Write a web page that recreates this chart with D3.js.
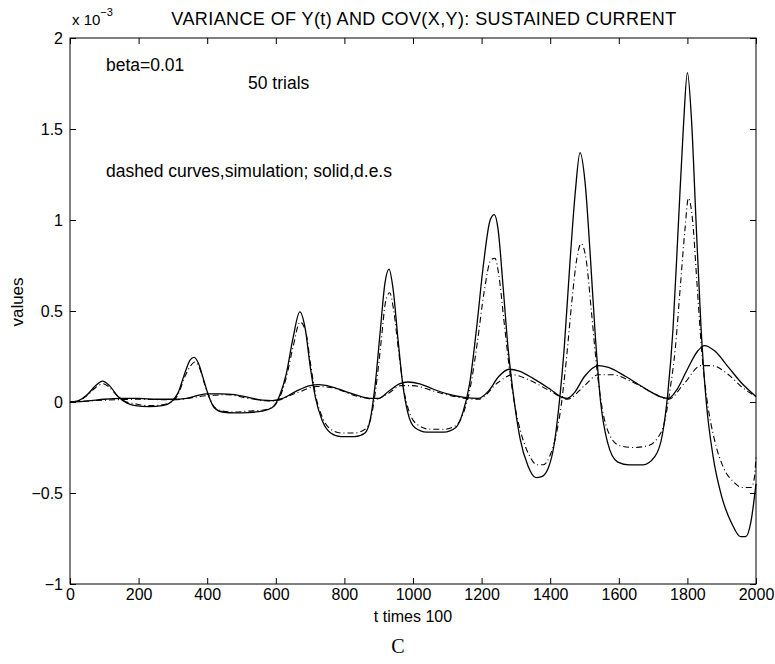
<!DOCTYPE html>
<html>
<head>
<meta charset="utf-8">
<script src="https://cdn.jsdelivr.net/npm/d3@7"></script>
<style>
  body { margin: 0; background: #fff; }
  text { font-family: "Liberation Sans", Arial, sans-serif; fill: #000; }
</style>
</head>
<body>
<div id="chart"></div>
<script>
// values, y in units of 1e-3, t in "t times 100"
const varDes = [[0,0],[20,0.005],[50,0.04],[75,0.09],[95,0.115],[115,0.09],[140,0.03],[165,-0.005],[190,-0.02],[230,-0.025],[270,-0.02],[295,0],[315,0.05],[335,0.16],[350,0.23],[362,0.245],[375,0.21],[390,0.12],[405,0.03],[420,-0.03],[445,-0.055],[480,-0.06],[520,-0.058],[560,-0.05],[590,-0.03],[610,0.03],[630,0.15],[650,0.35],[670,0.495],[686,0.4],[700,0.2],[715,0.03],[735,-0.1],[760,-0.17],[790,-0.19],[830,-0.19],[860,-0.17],[875,-0.1],[890,0.1],[905,0.4],[918,0.65],[930,0.73],[942,0.62],[956,0.35],[970,0.1],[985,-0.06],[1005,-0.14],[1040,-0.165],[1090,-0.165],[1125,-0.14],[1145,-0.06],[1165,0.1],[1185,0.4],[1205,0.75],[1225,1],[1237,1.03],[1248,0.95],[1262,0.65],[1277,0.3],[1292,0.05],[1312,-0.2],[1335,-0.35],[1358,-0.415],[1375,-0.41],[1395,-0.36],[1410,-0.25],[1425,-0.03],[1441,0.3],[1457,0.75],[1473,1.15],[1487,1.37],[1502,1.2],[1517,0.8],[1532,0.35],[1547,0],[1567,-0.22],[1597,-0.33],[1630,-0.345],[1670,-0.345],[1705,-0.3],[1727,-0.18],[1743,0.05],[1758,0.4],[1773,0.95],[1788,1.5],[1800,1.81],[1812,1.55],[1825,1],[1840,0.4],[1855,0],[1875,-0.3],[1900,-0.52],[1930,-0.67],[1955,-0.74],[1970,-0.74],[1985,-0.66],[2000,-0.45]];
const varSim = [[0,0],[20,0.004],[50,0.035],[75,0.08],[97,0.1],[115,0.08],[140,0.03],[165,0],[190,-0.01],[230,-0.02],[270,-0.015],[295,0],[315,0.04],[335,0.14],[352,0.2],[364,0.22],[377,0.19],[392,0.1],[407,0.02],[422,-0.03],[445,-0.05],[480,-0.055],[520,-0.05],[560,-0.045],[590,-0.03],[610,0.02],[630,0.13],[650,0.3],[671,0.44],[688,0.38],[702,0.2],[717,0.03],[737,-0.09],[760,-0.15],[790,-0.17],[830,-0.17],[860,-0.15],[877,-0.09],[892,0.08],[907,0.33],[920,0.55],[932,0.6],[944,0.5],[958,0.28],[973,0.07],[990,-0.06],[1010,-0.12],[1050,-0.15],[1090,-0.15],[1125,-0.13],[1147,-0.06],[1167,0.08],[1187,0.32],[1207,0.6],[1227,0.78],[1239,0.79],[1250,0.7],[1265,0.45],[1280,0.2],[1295,0],[1315,-0.17],[1338,-0.29],[1362,-0.345],[1380,-0.345],[1398,-0.3],[1415,-0.2],[1432,-0.02],[1448,0.25],[1463,0.55],[1477,0.78],[1490,0.87],[1505,0.78],[1520,0.5],[1538,0.15],[1553,-0.05],[1573,-0.18],[1603,-0.24],[1645,-0.25],[1685,-0.24],[1712,-0.2],[1732,-0.12],[1748,0.05],[1765,0.3],[1780,0.65],[1793,0.95],[1803,1.12],[1815,1],[1828,0.65],[1843,0.25],[1858,0],[1878,-0.2],[1905,-0.36],[1935,-0.44],[1960,-0.47],[1985,-0.47],[1995,-0.42],[2000,-0.3]];
const covDes = [[0,0],[50,0.005],[100,0.015],[150,0.02],[200,0.02],[250,0.015],[300,0.015],[340,0.02],[370,0.035],[400,0.045],[440,0.045],[480,0.04],[520,0.025],[560,0.01],[590,0.008],[620,0.02],[660,0.06],[700,0.09],[725,0.095],[760,0.085],[800,0.06],[840,0.035],[880,0.02],[900,0.02],[930,0.06],[960,0.1],[985,0.11],[1020,0.1],[1060,0.07],[1100,0.045],[1150,0.025],[1190,0.02],[1220,0.06],[1250,0.14],[1280,0.18],[1310,0.17],[1350,0.13],[1400,0.07],[1430,0.03],[1450,0.02],[1470,0.05],[1500,0.14],[1540,0.2],[1570,0.19],[1620,0.14],[1680,0.07],[1720,0.03],[1745,0.02],[1770,0.07],[1800,0.18],[1830,0.28],[1850,0.31],[1880,0.28],[1920,0.19],[1960,0.1],[2000,0.03]];
const covSim = [[0,0],[100,0.01],[200,0.015],[300,0.012],[400,0.035],[460,0.04],[520,0.02],[590,0.005],[660,0.05],[720,0.085],[760,0.08],[840,0.03],[890,0.015],[930,0.05],[965,0.09],[1000,0.09],[1060,0.06],[1120,0.03],[1190,0.015],[1250,0.11],[1290,0.15],[1340,0.12],[1400,0.06],[1450,0.015],[1500,0.09],[1540,0.15],[1580,0.15],[1640,0.11],[1700,0.05],[1745,0.015],[1790,0.1],[1840,0.2],[1870,0.2],[1920,0.15],[1960,0.08],[2000,0.03]];

const xTicks = [0,200,400,600,800,1000,1200,1400,1600,1800,2000];
const yTicks = [-1,-0.5,0,0.5,1,1.5,2];

const W = 775, H = 664;
const mLeft = 70, mRight = 756, mTop = 38, mBottom = 584;

const svg = d3.select("#chart").append("svg").attr("width", W).attr("height", H);

const x = d3.scaleLinear().domain([0, 2000]).range([mLeft, mRight]);
const y = d3.scaleLinear().domain([-1, 2]).range([mBottom, mTop]);

// frame
svg.append("rect")
  .attr("x", mLeft).attr("y", mTop)
  .attr("width", mRight - mLeft).attr("height", mBottom - mTop)
  .attr("fill", "none").attr("stroke", "#000").attr("stroke-width", 1);

// inward ticks on all four sides (matlab style)
const tl = 6;
svg.append("g").attr("transform", `translate(0,${mBottom})`)
  .call(d3.axisBottom(x).tickValues(xTicks).tickSize(-tl).tickPadding(5).tickFormat(d3.format("d")))
  .call(g => g.select(".domain").remove());
svg.append("g").attr("transform", `translate(0,${mTop})`)
  .call(d3.axisTop(x).tickValues(xTicks).tickSize(-tl).tickFormat(""))
  .call(g => g.select(".domain").remove());
svg.append("g").attr("transform", `translate(${mLeft},0)`)
  .call(d3.axisLeft(y).tickValues(yTicks).tickSize(-tl).tickPadding(7).tickFormat(d => d3.format("")(d).replace("-", "\u2212")))
  .call(g => g.select(".domain").remove());
svg.append("g").attr("transform", `translate(${mRight},0)`)
  .call(d3.axisRight(y).tickValues(yTicks).tickSize(-tl).tickFormat(""))
  .call(g => g.select(".domain").remove());

svg.selectAll(".tick text").style("font-size", "16px").style("font-family", "Liberation Sans, Arial, sans-serif");
svg.selectAll(".tick line").attr("stroke", "#000");

// curves
const line = d3.line().x(d => x(d[0])).y(d => y(d[1])).curve(d3.curveMonotoneX);

svg.append("path").datum(covSim).attr("d", line)
  .attr("fill", "none").attr("stroke", "#000").attr("stroke-width", 1.1).attr("stroke-dasharray", "6,3,1,3");
svg.append("path").datum(varSim).attr("d", line)
  .attr("fill", "none").attr("stroke", "#000").attr("stroke-width", 1.1).attr("stroke-dasharray", "6,3,1,3");
svg.append("path").datum(covDes).attr("d", line)
  .attr("fill", "none").attr("stroke", "#000").attr("stroke-width", 1.3);
svg.append("path").datum(varDes).attr("d", line)
  .attr("fill", "none").attr("stroke", "#000").attr("stroke-width", 1.3);

// texts
svg.append("text").attr("x", 424).attr("y", 25).attr("text-anchor", "middle")
  .style("font-size", "18px").style("letter-spacing", "0.4px")
  .text("VARIANCE OF Y(t) AND COV(X,Y): SUSTAINED CURRENT");

const ex = svg.append("text").attr("x", 72).attr("y", 25).style("font-size", "15px");
ex.append("tspan").text("x 10");
ex.append("tspan").attr("dy", -9).style("font-size", "11px").text("\u22123");

svg.append("text").attr("x", 106).attr("y", 71).style("font-size", "17.5px").text("beta=0.01");
svg.append("text").attr("x", 248).attr("y", 89).style("font-size", "17.5px").text("50 trials");
svg.append("text").attr("x", 106).attr("y", 177).style("font-size", "17.5px").text("dashed curves,simulation; solid,d.e.s");

svg.append("text").attr("x", 413).attr("y", 622).attr("text-anchor", "middle")
  .style("font-size", "16px").text("t times 100");
svg.append("text").attr("transform", "translate(23,302) rotate(-90)").attr("text-anchor", "middle")
  .style("font-size", "17px").text("values");

svg.append("text").attr("x", 398).attr("y", 653).attr("text-anchor", "middle")
  .style("font-family", "Liberation Serif, Times New Roman, serif").style("font-size", "20px").text("C");
</script>
</body>
</html>
